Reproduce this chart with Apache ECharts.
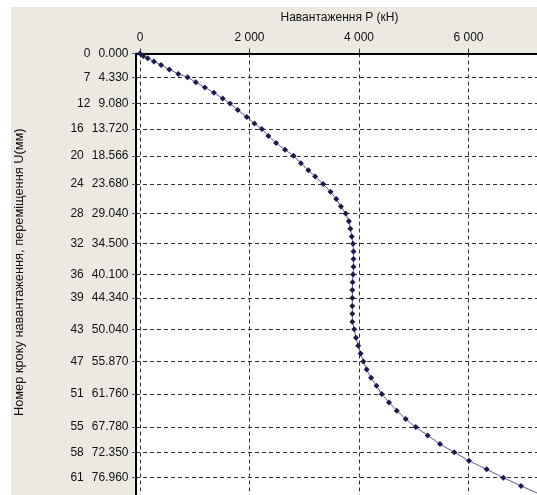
<!DOCTYPE html>
<html><head><meta charset="utf-8">
<script src="https://cdn.jsdelivr.net/npm/echarts@6/dist/echarts.min.js"></script>
<style>html,body{margin:0;padding:0;background:#fff}#c{width:537px;height:495px}</style>
</head><body><div id="c"></div>
<script>
// Load P (kN) for each loading step
const loads = [0,60,140,255,385,535,700,870,1020,1185,1350,1510,1645,1785,1950,2090,2225,2345,2485,2650,2805,2940,3075,3200,3345,3480,3585,3670,3757,3815,3842,3868,3890,3900,3900,3900,3892,3882,3878,3878,3878,3878,3878,3912,3945,3985,4030,4080,4140,4220,4320,4415,4548,4690,4853,5036,5255,5479,5740,6009,6332,6636,6959,7300];
// Displacement U (mm) for each loading step
const disps = [0,0.45,0.85,1.45,2.07,2.9,3.7,4.33,5.2,6.15,7.1,8.15,9.08,10.25,11.5,12.7,13.72,14.95,16.25,17.45,18.566,19.9,21.2,22.3,23.68,25.1,26.42,27.75,29.04,30.45,31.8,33.2,34.5,35.9,37.3,38.7,40.1,41.5,42.9,44.34,45.8,47.2,48.65,50.04,51.55,53.0,54.45,55.87,57.35,58.85,60.3,61.76,63.3,64.8,66.3,67.78,69.3,70.85,72.35,73.9,75.45,76.96,78.45,79.95];
// Y tick labels: step number and displacement
const tickSteps = [0,7,12,16,20,24,28,32,36,39,43,47,51,55,58,61];
const tickDisps = [0,4.33,9.08,13.72,18.566,23.68,29.04,34.5,40.1,44.34,50.04,55.87,61.76,67.78,72.35,76.96];
// X ticks
const xTicks = [0,2000,4000,6000];
const xMin = -73, xMax = 7251, yMin = 0, yMax = 80.1;

const FONT = 'Liberation Sans';
const TXT = '#111111';
const fmtThousands = v => String(Math.round(v)).replace(/\B(?=(\d{3})+(?!\d))/g, ' ');

const chart = echarts.init(document.getElementById('c'));
chart.setOption({
  animation: false,
  backgroundColor: '#ffffff',
  graphic: [{
    type: 'rect', z: -100, silent: true,
    shape: { x: 11, y: 7, width: 540, height: 500 },
    style: { fill: '#ECE9E3' }
  }],
  grid: { left: 136, top: 53.5, right: 0, bottom: 0, show: true, backgroundColor: '#ffffff', borderWidth: 0 },
  xAxis: {
    type: 'value', position: 'top', min: xMin, max: xMax,
    name: 'Навантаження P (кН)', nameLocation: 'middle', nameGap: 29.5,
    nameTextStyle: { fontFamily: FONT, fontSize: 12, color: TXT, padding: [0, 0, 0, 6] },
    axisLine: { show: true, onZero: false, lineStyle: { color: '#000', width: 2 } },
    axisTick: { show: true, customValues: xTicks, length: 5, lineStyle: { color: '#333' } },
    axisLabel: { customValues: xTicks, margin: 9.5, fontFamily: FONT, fontSize: 12, color: TXT,
      formatter: v => fmtThousands(v) },
    splitLine: { show: true, lineStyle: { type: [4, 3], color: '#333', width: 1 } }
  },
  yAxis: {
    type: 'value', inverse: true, min: yMin, max: yMax,
    name: 'Номер кроку навантаження, переміщення U(мм)', nameLocation: 'middle', nameRotate: 90, nameGap: 110,
    nameTextStyle: { fontFamily: FONT, fontSize: 12.8, color: TXT, padding: [0, 0, 0, 4] },
    axisLine: { show: true, onZero: false, lineStyle: { color: '#000', width: 2 } },
    axisTick: { show: true, customValues: tickDisps, length: 4, lineStyle: { color: '#4a5a9a' } },
    axisLabel: {
      customValues: tickDisps, margin: 7.5, fontFamily: FONT, fontSize: 12, color: TXT,
      formatter: v => {
        let idx = 0, best = Infinity;
        tickDisps.forEach((d, i) => { const e = Math.abs(d - v); if (e < best) { best = e; idx = i; } });
        return '{s|' + tickSteps[idx] + '}{d|' + tickDisps[idx].toFixed(3) + '}';
      },
      rich: {
        s: { padding: [0, 8, 0, 0], fontFamily: FONT, fontSize: 12, color: TXT },
        d: { fontFamily: FONT, fontSize: 12, color: TXT }
      }
    },
    splitLine: { show: true, lineStyle: { type: [4, 3], color: '#333', width: 1 } }
  },
  series: [{
    type: 'line',
    data: loads.map((p, i) => [p, disps[i]]),
    symbol: 'diamond', symbolSize: 6, showAllSymbol: true, clip: true,
    itemStyle: { color: '#1c1c4c' },
    lineStyle: { color: '#5a5aa0', width: 1 },
    emphasis: { disabled: true }
  }]
});
</script>
</body></html>
